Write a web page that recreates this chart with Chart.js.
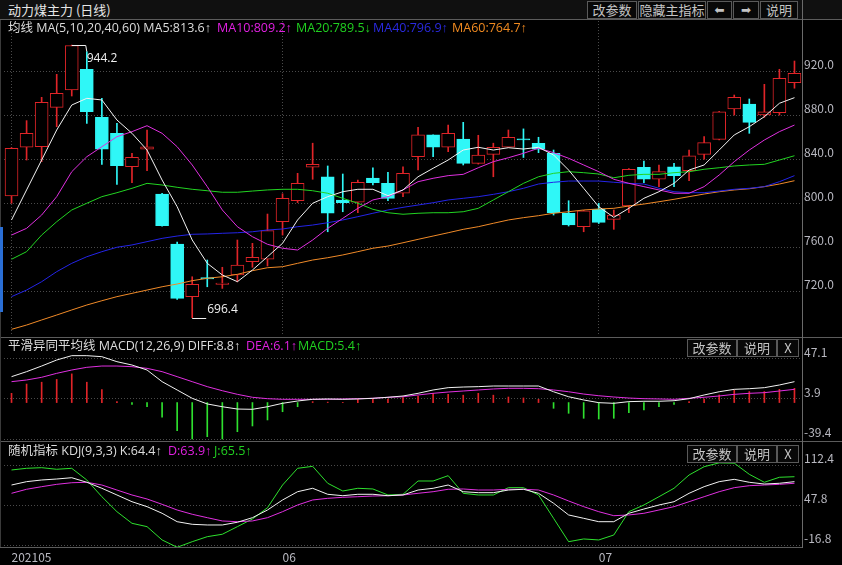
<!DOCTYPE html>
<html><head><meta charset="utf-8">
<script src="https://cdn.jsdelivr.net/npm/chart.js@4.4.0/dist/chart.umd.min.js"></script>
<style>
html,body{margin:0;padding:0;background:#000;width:842px;height:565px;overflow:hidden;font-family:"Noto Sans CJK SC",sans-serif;}
canvas{position:absolute;left:0;}
.btn{position:absolute;height:18px;border:1px solid #5a5a5a;color:#c4c4c4;font-size:13px;line-height:16px;text-align:center;background:#080808;box-sizing:border-box;}
.leg{position:absolute;font-size:12.5px;white-space:nowrap;line-height:14px;font-family:"Open Sans","Liberation Sans","Noto Sans CJK SC",sans-serif;}
.hl{position:absolute;height:1px;background:#5c5c5c;left:0;width:842px;}
.vl{position:absolute;width:1px;background:#6a6a6a;}
</style></head><body>
<div style="position:absolute;left:0;top:0;width:842px;height:19px;background:#101010;"></div>
<div class="leg" style="left:8px;top:2px;color:#e6e6e6;font-size:13px;line-height:16px;font-family:'Noto Sans CJK SC'">动力煤主力 (日线)</div>

<canvas id="cMain" width="842" height="317" style="top:20px"></canvas>
<canvas id="cMacd" width="842" height="104" style="top:337px"></canvas>
<canvas id="cKdj" width="842" height="124" style="top:441px"></canvas>

<div class="hl" style="top:19px"></div>
<div class="hl" style="top:337px"></div>
<div class="hl" style="top:441px"></div>
<div class="hl" style="top:547px;width:803px"></div>
<div class="vl" style="left:802px;top:0;height:548px"></div>
<div style="position:absolute;left:0;top:20px;width:1px;height:527px;background:#3a3a3a"></div>
<div style="position:absolute;left:0;top:227px;width:3px;height:85px;background:#2a6fd6"></div>

<div class="btn" style="left:587px;top:1px;width:50px;">改参数</div>
<div class="btn" style="left:638px;top:1px;width:68px;">隐藏主指标</div>
<div class="btn" style="left:707px;top:1px;width:25px;font-family:'DejaVu Sans';font-size:12px;">⬅</div>
<div class="btn" style="left:733px;top:1px;width:26px;font-family:'DejaVu Sans';font-size:12px;">➡</div>
<div class="btn" style="left:760px;top:1px;width:38px;">说明</div>

<div class="leg" style="left:8px;top:21px;color:#dcdcdc">均线 MA(5,10,20,40,60) MA5:813.6↑</div>
<div class="leg" style="left:217px;top:21px;color:#e020e0">MA10:809.2↑</div>
<div class="leg" style="left:296px;top:21px;color:#20d020">MA20:789.5↓</div>
<div class="leg" style="left:373px;top:21px;color:#2a2ae0">MA40:796.9↑</div>
<div class="leg" style="left:452px;top:21px;color:#f08a20">MA60:764.7↑</div>

<div class="leg" style="left:8px;top:339px;color:#dcdcdc">平滑异同平均线 MACD(12,26,9) DIFF:8.8↑</div>
<div class="leg" style="left:246px;top:339px;color:#e020e0">DEA:6.1↑</div>
<div class="leg" style="left:298px;top:339px;color:#20d020">MACD:5.4↑</div>
<div class="btn" style="left:687px;top:339px;width:50px;">改参数</div>
<div class="btn" style="left:737px;top:339px;width:40px;">说明</div>
<div class="btn" style="left:777px;top:339px;width:22px;">X</div>

<div class="leg" style="left:8px;top:444px;color:#dcdcdc">随机指标 KDJ(9,3,3) K:64.4↑</div>
<div class="leg" style="left:168px;top:444px;color:#e020e0">D:63.9↑</div>
<div class="leg" style="left:214px;top:444px;color:#20d020">J:65.5↑</div>
<div class="btn" style="left:687px;top:445px;width:50px;">改参数</div>
<div class="btn" style="left:737px;top:445px;width:40px;">说明</div>
<div class="btn" style="left:777px;top:445px;width:22px;">X</div>

<script>
// ---------- data ----------
const dates = ['2021-05-06','2021-05-07','2021-05-10','2021-05-11','2021-05-12','2021-05-13','2021-05-14','2021-05-17','2021-05-18','2021-05-19','2021-05-20','2021-05-21','2021-05-24','2021-05-25','2021-05-26','2021-05-27','2021-05-28','2021-05-31','2021-06-01','2021-06-02','2021-06-03','2021-06-04','2021-06-07','2021-06-08','2021-06-09','2021-06-10','2021-06-11','2021-06-15','2021-06-16','2021-06-17','2021-06-18','2021-06-21','2021-06-22','2021-06-23','2021-06-24','2021-06-25','2021-06-28','2021-06-29','2021-06-30','2021-07-01','2021-07-02','2021-07-05','2021-07-06','2021-07-07','2021-07-08','2021-07-09','2021-07-12','2021-07-13','2021-07-14','2021-07-15','2021-07-16','2021-07-19','2021-07-20'];
const monthStarts = ['2021-05-06','2021-06-01','2021-07-01'];
const monthLabels = ['202105','06','07'];

const open  = [807.0,851.3,851.8,887.6,903.4,922.2,878.5,864.0,833.6,849.5, 808.8,763.4,715.5,732.8,726.6,735.2,747.3,749.5,783.6,802.7, 833.1,824.5,803.4,801.3,823.4,818.5,809.5,842.7,862.5,851.3, 858.8,836.7,844.9,851.3,859.0,854.9,845.8,791.3,779.1,794.9, 785.8,797.9,833.1,822.2,833.6,830.0,844.9,858.5,886.1,890.6, 880.6,882.7,910.0];
const high  = [851.0,875.5,896.7,917.6,944.2,938.2,895.8,873.1,845.8,867.0, 809.5,765.0,733.6,748.8,742.2,767.0,764.0,790.6,809.0,827.6, 855.0,834.3,827.0,821.5,832.7,828.5,833.6,869.5,862.5,871.5, 874.0,862.2,855.0,867.0,868.0,860.4,848.8,802.7,794.0,800.4, 794.3,832.0,838.8,835.2,836.7,848.8,861.0,884.0,898.8,895.2, 908.5,922.2,929.7];
const low   = [800.4,839.7,838.2,870.0,897.9,873.0,835.8,817.6,819.1,830.0, 779.5,713.0,696.4,724.5,723.0,729.0,742.2,743.4,771.5,801.0, 822.2,774.5,792.7,791.8,817.0,802.7,806.4,830.6,842.7,847.3, 835.2,836.0,824.5,851.0,842.0,846.4,789.7,779.7,774.5,782.0, 776.7,791.8,819.1,815.5,815.5,821.0,840.4,858.0,880.6,864.0, 878.5,880.6,905.0];
const close = [850.4,864.0,892.2,900.4,943.8,883.6,849.5,834.5,842.2,851.8, 780.0,714.0,726.7,731.6,727.8,744.3,751.3,775.5,804.9,818.5, 835.8,791.3,801.0,819.5,819.1,804.9,827.6,862.5,851.3,864.0, 836.7,844.3,851.3,860.4,858.0,849.5,791.8,780.6,793.6,783.0, 789.7,831.3,822.2,829.1,825.5,843.6,855.5,883.6,896.7,874.0, 883.6,914.0,918.5];

const ma5  = [785.2,812.5,839.7,867.0,889.7,895.8,894.3,876.1,864.0,848.8, 821.5,797.3,767.0,745.8,735.2,729.1,739.7,751.8,764.0,785.2, 800.4,806.4,810.9,813.1,813.1,807.3,812.5,824.5,832.2,839.7, 848.8,851.3,848.8,850.9,849.7,851.3,844.3,830.6,814.0,797.3, 787.6,795.8,804.9,810.9,818.5,830.6,835.2,848.8,862.5,870.0, 879.1,891.3,896.4];
const ma10 = [771.5,777.6,789.7,806.4,829.1,842.7,851.8,860.9,865.5,870.9, 864.0,851.8,835.2,815.5,794.3,779.1,770.0,763.1,759.5,757.9, 767.0,777.6,786.7,795.8,803.4,806.4,812.5,820.0,823.1,825.5, 826.7,832.7,838.2,841.8,845.8,850.4,846.4,841.3,835.2,829.1, 822.2,818.5,815.5,812.5,809.5,809.5,815.5,826.1,838.2,848.8, 857.9,865.5,871.5];
const ma20 = [749.5,756.4,771.5,783.6,794.3,800.4,806.4,810.0,814.0,818.5, 817.0,814.9,813.1,811.8,810.4,810.4,811.5,812.5,813.1,813.1, 811.8,809.5,804.9,800.4,794.9,791.8,790.4,791.3,791.8,791.8, 792.7,795.8,803.4,810.9,818.5,824.5,827.6,829.1,828.2,827.0, 823.6,825.8,826.7,826.7,828.2,829.1,831.3,832.7,834.3,835.2, 835.8,839.7,843.6];
const ma40 = [715.5,721.5,729.1,738.2,745.8,751.8,756.4,760.4,762.5,765.5, 768.5,770.6,772.2,772.5,773.1,773.6,774.5,776.1,777.0,779.1, 780.6,782.7,785.2,788.2,791.3,794.3,796.7,798.8,800.9,803.4, 804.9,806.4,808.5,810.9,814.0,817.9,819.5,820.6,820.6,820.6, 819.5,818.5,817.9,814.0,810.9,810.0,810.0,811.5,813.1,814.0, 815.5,820.0,825.5];
const ma60 = [685.8,689.7,694.3,698.8,703.4,707.9,711.8,715.5,718.5,721.5, 724.5,727.0,730.0,732.2,733.6,735.8,739.1,741.8,742.7,745.8, 748.8,750.9,753.4,756.4,759.5,761.5,764.5,767.6,770.6,773.6, 776.7,779.1,782.2,785.2,787.3,789.1,791.3,792.7,794.3,795.2, 795.8,797.9,799.7,801.8,804.0,806.4,808.8,810.9,812.5,813.6, 815.5,817.9,820.9];

const diff = [28.0,33.4,39.5,46.0,50.7,50.7,49.6,44.2,40.6,35.2, 22.6,13.6,4.6,-1.5,-4.5,-7.0,-7.3,-4.5,-0.8,1.7, 3.5,3.9,3.5,3.9,4.6,5.7,7.1,10.0,13.6,16.1, 16.8,17.2,17.9,17.9,17.9,17.9,11.7,6.3,2.8,-0.1, -0.8,1.0,1.4,1.4,2.0,4.2,8.2,11.7,14.3,15.0, 16.1,19.0,22.6];
const dea  = [22.6,24.4,27.3,31.6,35.2,38.1,39.5,39.5,38.8,37.0, 33.4,28.0,22.6,17.2,12.8,8.9,5.7,4.2,3.5,3.5, 3.5,3.5,3.9,4.2,4.6,5.7,6.3,8.2,10.0,11.4, 12.5,13.6,14.7,15.4,15.4,15.0,13.6,11.7,9.2,7.4, 6.0,4.9,4.2,3.9,3.5,4.6,5.7,7.1,8.9,10.0, 10.7,12.5,14.3];
const macd = [10.0,20.0,22.0,25.0,31.0,22.0,14.0,1.0,-2.0,-4.5, -15.9,-30.4,-39.4,-36.9,-39.4,-31.5,-25.3,-18.8,-9.9,-4.5, 1.0,0.5,0.2,3.5,3.5,3.9,5.4,7.1,10.0,9.0, 8.0,10.0,8.0,6.0,5.0,3.5,-6.2,-11.6,-17.0,-17.8, -17.0,-10.9,-8.0,-4.5,-2.0,1.0,3.9,8.2,13.6,11.9, 11.9,14.3,15.4];

const kLine = [81.2,86.6,89.3,90.9,93.0,85.6,75.9,65.1,54.2,46.2, 35.5,21.9,17.7,16.6,16.6,21.0,28.4,40.8,57.0,70.4, 75.9,66.2,63.9,66.2,66.2,63.9,65.1,73.1,75.9,81.2, 70.4,68.8,68.8,73.1,74.3,67.8,51.7,32.8,27.4,21.9, 21.9,35.5,42.4,48.9,54.2,67.8,78.5,86.6,90.4,85.6, 82.8,84.0,86.6];
const dLine = [67.8,74.3,78.5,82.3,84.9,85.6,81.2,73.1,65.1,58.6, 50.0,40.8,33.9,28.4,23.1,21.9,23.1,28.4,38.1,48.9, 57.0,59.7,61.3,62.3,63.4,63.9,65.1,67.8,70.4,74.3, 74.8,73.1,73.1,74.3,74.3,73.1,65.1,55.4,46.2,38.1, 31.6,32.8,35.5,40.8,46.2,54.2,62.3,70.4,76.9,80.1, 81.2,82.3,84.0];
const jLine = [105.5,108.2,109.2,106.6,108.2,89.3,62.3,38.1,19.3,13.9, -7.6,-19.4,-10.4,-2.3,1.6,13.9,26.3,44.5,81.2,108.2, 111.4,84.0,71.5,75.9,74.8,65.1,66.2,87.7,87.7,96.3, 67.8,65.1,65.1,76.9,76.9,65.1,27.4,-10.4,-6.0,-7.6, 0.4,38.1,48.9,62.3,75.9,97.4,110.8,117.0,116.5,98.5, 85.6,93.7,94.6];

const priceTicks = [720, 760, 800, 840, 880, 920];
const macdTicks = [47.1, 3.9, -39.4];
const kdjTicks = [112.4, 47.8, -16.8];

// ---------- styling ----------
Chart.defaults.font.family = '"Noto Sans CJK SC", sans-serif';
Chart.defaults.font.size = 12;
Chart.defaults.color = '#b8b8c0';
const UP = '#e02428', DN = '#2ff7f7', GRN = '#2ee02e', MAG = '#e030e0';
const monthIdx = monthStarts.map(d => dates.indexOf(d));
const isUp = i => close[i] >= open[i];

function yOpts(min, max, vals) {
  return {
    position: 'right', min, max,
    afterBuildTicks: s => { s.ticks = vals.map(v => ({ value: v })); },
    afterFit: s => { s.width = 40; s.paddingTop = 0; s.paddingBottom = 0; },
    ticks: { callback: v => Number(v).toFixed(1), labelOffset: -7, padding: 2, color: '#b8b8c0', font: { size: 12 } },
    grid: { color: '#4a4a4a', drawTicks: false, lineWidth: 1 },
    border: { display: false, dash: [1, 2] }
  };
}
function xOpts(showLabels, showGrid) {
  return {
    type: 'category', offset: true,
    grid: { offset: false, drawTicks: false, color: c => (showGrid && monthIdx.includes(c.index)) ? '#4a4a4a' : 'rgba(0,0,0,0)' },
    border: { display: false, dash: [1, 2] },
    ticks: showLabels ? {
      autoSkip: false, maxRotation: 0, minRotation: 0, align: 'start', padding: 2,
      color: '#b8b8c0', font: { size: 12 },
      callback: (v, i) => { const k = monthIdx.indexOf(i); return k >= 0 ? monthLabels[k] : ''; }
    } : { display: false },
    afterFit: s => { s.height = showLabels ? 17 : 0; s.paddingLeft = 0; s.paddingRight = 0; }
  };
}
const base = {
  responsive: false, maintainAspectRatio: false, animation: false, devicePixelRatio: 1, events: [],
  plugins: { legend: { display: false }, tooltip: { enabled: false } }
};
const line = (data, color) => ({ type: 'line', data, borderColor: color, borderWidth: 1, pointRadius: 0, tension: 0, order: 0 });

const hiLo = {
  id: 'hiLo',
  afterDatasetsDraw(chart) {
    const { ctx, scales: { x, y } } = chart;
    const hv = Math.max(...high), hi = high.indexOf(hv);
    const lv = Math.min(...low), li = low.indexOf(lv);
    ctx.save();
    ctx.strokeStyle = '#f0f0f0'; ctx.fillStyle = '#f0f0f0'; ctx.lineWidth = 1;
    ctx.font = '12px "Open Sans"';
    let px = x.getPixelForValue(hi), py = Math.round(y.getPixelForValue(hv)) + 0.5;
    ctx.beginPath(); ctx.moveTo(px, py); ctx.lineTo(px + 14, py); ctx.lineTo(px + 15, py + 6); ctx.stroke();
    ctx.textBaseline = 'middle'; ctx.textAlign = 'left';
    ctx.fillText(hv.toFixed(1), px + 15, py + 13);
    px = x.getPixelForValue(li); py = Math.round(y.getPixelForValue(lv)) + 0.5;
    ctx.beginPath(); ctx.moveTo(px, py); ctx.lineTo(px + 14, py); ctx.stroke();
    ctx.fillText(lv.toFixed(1), px + 15, py - 9);
    ctx.restore();
  }
};

// ---------- main price chart ----------
new Chart(document.getElementById('cMain'), {
  type: 'bar',
  data: {
    labels: dates,
    datasets: [
      line(ma5, '#f2f2f2'), line(ma10, MAG), line(ma20, '#22d422'), line(ma40, '#2424e8'), line(ma60, '#f08a28'),
      { type: 'bar', data: dates.map((d, i) => [open[i], close[i]]),
        backgroundColor: dates.map((d, i) => isUp(i) ? '#000000' : DN),
        borderColor: dates.map((d, i) => isUp(i) ? UP : DN),
        borderWidth: 1, borderSkipped: false, barThickness: 13, grouped: false, order: 1 },
      { type: 'bar', data: dates.map((d, i) => [low[i], high[i]]),
        backgroundColor: dates.map((d, i) => isUp(i) ? UP : DN),
        borderWidth: 0, barThickness: 1, grouped: false, order: 2 }
    ]
  },
  options: Object.assign({}, base, {
    layout: { padding: { left: 4, top: 1, bottom: 1, right: 0 } },
    scales: { x: xOpts(false, true), y: yOpts(679.73, 966.09, priceTicks) }
  }),
  plugins: [hiLo]
});

// ---------- MACD ----------
new Chart(document.getElementById('cMacd'), {
  type: 'bar',
  data: {
    labels: dates,
    datasets: [
      line(diff, '#f2f2f2'), line(dea, MAG),
      { type: 'bar', data: macd, backgroundColor: macd.map(v => v >= 0 ? UP : GRN),
        borderWidth: 0, barThickness: 1, grouped: false, order: 1 }
    ]
  },
  options: Object.assign({}, base, {
    layout: { padding: { left: 4, top: 17, bottom: 1, right: 0 } },
    scales: { x: xOpts(false, false), y: yOpts(-40.47, 52.5, macdTicks) }
  })
});

// ---------- KDJ ----------
new Chart(document.getElementById('cKdj'), {
  type: 'line',
  data: {
    labels: dates,
    datasets: [ line(kLine, '#f2f2f2'), line(dLine, MAG), line(jLine, GRN) ]
  },
  options: Object.assign({}, base, {
    layout: { padding: { left: 4, top: 14, bottom: 0, right: 0 } },
    scales: { x: xOpts(true, false), y: yOpts(-20.6, 129.7, kdjTicks) }
  })
});
</script>
</body></html>
